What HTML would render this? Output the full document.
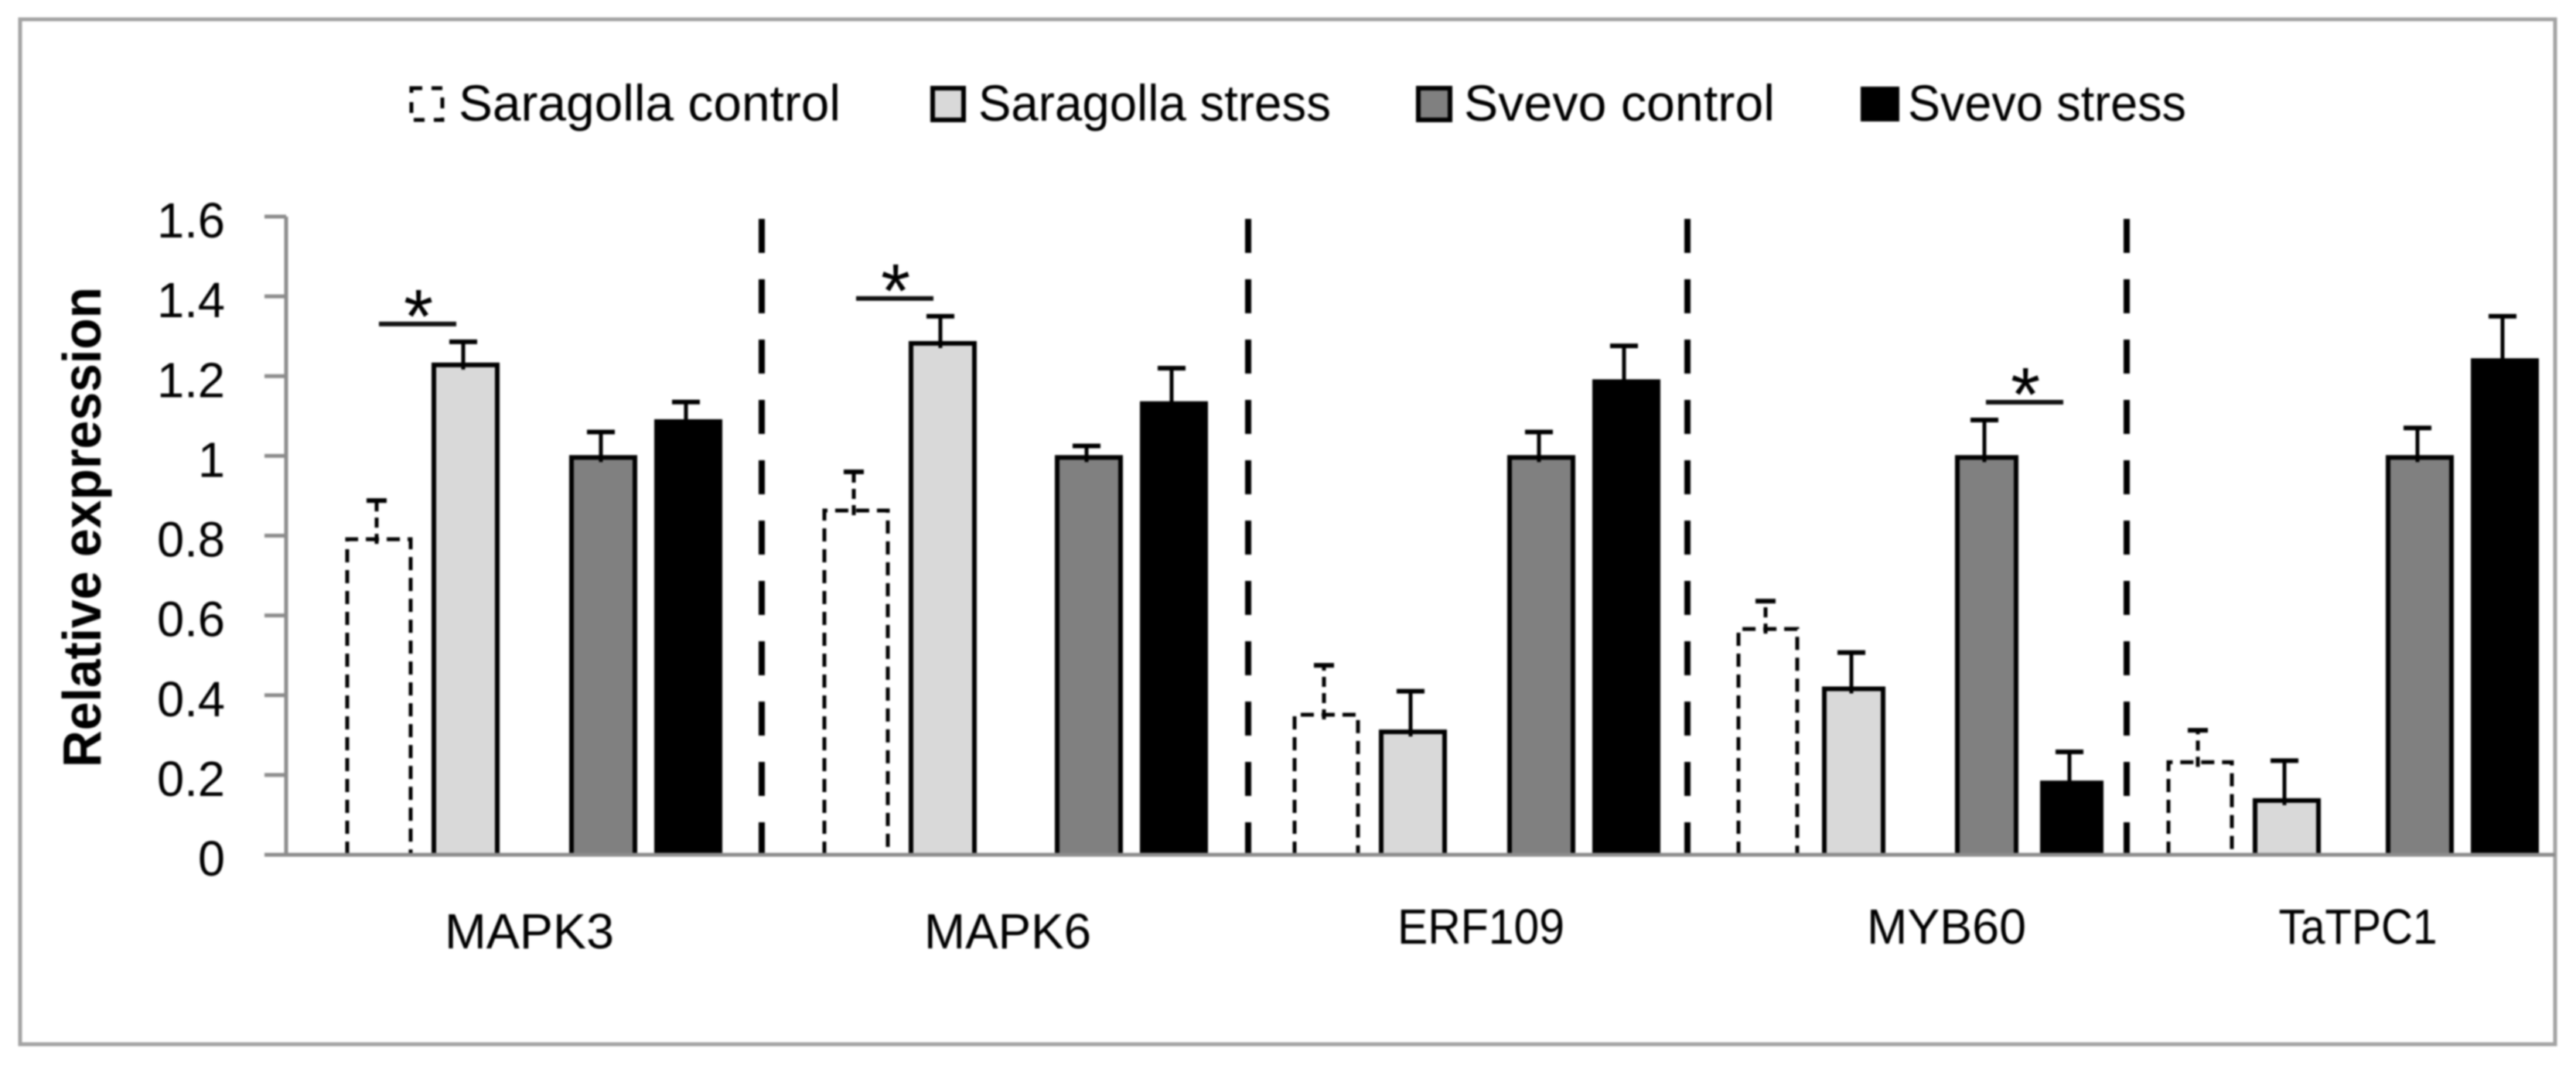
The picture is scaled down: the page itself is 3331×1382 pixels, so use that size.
<!DOCTYPE html>
<html lang="en">
<head>
<meta charset="utf-8">
<title>Relative expression chart</title>
<style>
html,body{margin:0;padding:0;background:#fff;width:3331px;height:1382px;overflow:hidden}
svg{display:block;filter:blur(1px)}
text{font-family:"Liberation Sans",sans-serif;fill:#000}
</style>
</head>
<body>
<svg id="chart" xmlns="http://www.w3.org/2000/svg" width="3331" height="1382" viewBox="0 0 3331 1382">
  <rect x="26" y="25" width="3278" height="1325" fill="#fff" stroke="#a3a3a3" stroke-width="5"/>

  <g>
    <g>
      <rect x="532" y="114" width="40" height="41" fill="#fff" stroke="#000" stroke-width="5" stroke-dasharray="14 12"/>
      <text x="593" y="156" font-size="66" textLength="494" lengthAdjust="spacingAndGlyphs">Saragolla control</text>
    </g>
    <g>
      <rect x="1206" y="114" width="40" height="41" fill="#d9d9d9" stroke="#000" stroke-width="6"/>
      <text x="1265" y="156" font-size="66" textLength="456" lengthAdjust="spacingAndGlyphs">Saragolla stress</text>
    </g>
    <g>
      <rect x="1834" y="114" width="41" height="41" fill="#808080" stroke="#000" stroke-width="6"/>
      <text x="1893" y="156" font-size="66" textLength="402" lengthAdjust="spacingAndGlyphs">Svevo control</text>
    </g>
    <g>
      <rect x="2406" y="112" width="50" height="45" fill="#000"/>
      <text x="2467" y="156" font-size="66" textLength="360" lengthAdjust="spacingAndGlyphs">Svevo stress</text>
    </g>
  </g>

  <text transform="translate(130,992) rotate(-90)" font-size="70" font-weight="bold" textLength="621" lengthAdjust="spacingAndGlyphs">Relative expression</text>

  <g id="dividers"></g>
  <g id="bars"></g>
  <g id="errors"></g>
  <g id="significance"></g>
  <g id="y-axis"></g>
  <g id="x-axis"></g>
</svg>

<script>
const categories = ['MAPK3', 'MAPK6', 'ERF109', 'MYB60', 'TaTPC1'];
const seriesNames = ['saragolla-control', 'saragolla-stress', 'svevo-control', 'svevo-stress'];
const saragollaControl = [0.795, 0.867, 0.355, 0.57, 0.236];
const saragollaStress = [1.232, 1.286, 0.312, 0.42, 0.14];
const svevoControl = [1.0, 1.0, 1.0, 1.0, 1.0];
const svevoStress = [1.09, 1.135, 1.19, 0.184, 1.243];
const saragollaControlError = [0.093, 0.093, 0.12, 0.066, 0.076];
const saragollaStressError = [0.054, 0.064, 0.098, 0.087, 0.096];
const svevoControlError = [0.06, 0.025, 0.06, 0.09, 0.07];
const svevoStressError = [0.045, 0.085, 0.086, 0.074, 0.107];
const yTickValues = [0, 0.2, 0.4, 0.6, 0.8, 1, 1.2, 1.4, 1.6];
const yTickLabels = ['0', '0.2', '0.4', '0.6', '0.8', '1', '1.2', '1.4', '1.6'];
const significantGenes = ['MAPK3', 'MAPK6', 'MYB60'];
const significantSeries = [0, 0, 2];

const seriesValues = [saragollaControl, saragollaStress, svevoControl, svevoStress];
const seriesErrors = [saragollaControlError, saragollaStressError, svevoControlError, svevoStressError];
const SVG_NS = 'http://www.w3.org/2000/svg';

/* Y axis: value to pixel */
function yScale(v) {
  const baseY = 1105, topY = 280, maxV = 1.6;
  return baseY - (v / maxV) * (baseY - topY);
}

/* X axis: each gene is a separately pasted panel with its own layout */
function panelLeft(g) { return [448, 1065, 1673, 2247, 2803][g]; }
function panelBarWidth(g) { return [84, 84, 84, 78, 84][g]; }
function panelSvevoOffset(g) { return [290, 301, 278, 283, 284][g]; }
function panelLabelCenter(g) { return [684.5, 1303, 1915, 2517, 3049][g]; }
function panelLabelWidth(g) { return [219, 216, 216, 206, 205][g]; }
function panelLabelBaseline(g) { return [1226, 1226, 1220, 1220, 1220][g]; }
function xScale(g, s) {
  const offsets = [0, panelBarWidth(g) === 84 ? 112 : 111, panelSvevoOffset(g), panelSvevoOffset(g) + 110];
  return panelLeft(g) + offsets[s];
}
function dividerX(i) { return [985, 1614, 2182, 2750][i]; }

function make(tag, attrs, parent) {
  const el = document.createElementNS(SVG_NS, tag);
  Object.keys(attrs).forEach(function (k) { el.setAttribute(k, attrs[k]); });
  parent.appendChild(el);
  return el;
}

const fills = ['#ffffff', '#d9d9d9', '#808080', '#000000'];
const barsGroup = document.getElementById('bars');
const errorsGroup = document.getElementById('errors');
const sigGroup = document.getElementById('significance');
const yGroup = document.getElementById('y-axis');
const xGroup = document.getElementById('x-axis');
const dividerGroup = document.getElementById('dividers');

for (let i = 0; i < categories.length - 1; i++) {
  const x = dividerX(i);
  const line = make('line', { x1: x, x2: x, y1: 283, y2: 1105, stroke: '#000', 'stroke-width': 8, 'stroke-dasharray': '44 34' }, dividerGroup);
  
  
}

categories.forEach(function (gene, g) {
  seriesValues.forEach(function (values, s) {
    const w = panelBarWidth(g);
    const left = xScale(g, s);
    const top = yScale(values[g]);
    const dashed = s === 0;
    const bar = make('path', {
      d: 'M' + (left + 1) + ' ' + yScale(0) + 'V' + (top + 2) + 'H' + (left + w - 1) + 'V' + yScale(0),
      fill: fills[s],
      stroke: '#000',
      'stroke-width': dashed ? 5 : 6,
      'stroke-dasharray': dashed ? '17 10' : 'none'
    }, barsGroup);
    
    

    const cx = left + w / 2 - 3;
    const errTop = yScale(values[g] + seriesErrors[s][g]);
    const stem = make('line', {
      x1: cx, x2: cx, y1: top + 8, y2: errTop,
      stroke: '#000', 'stroke-width': 5,
      'stroke-dasharray': dashed ? '13 8' : 'none'
    }, errorsGroup);
    
    

    const halfCap = dashed ? 13 : 18;
    const cap = make('line', {
      x1: cx - halfCap, x2: cx + halfCap, y1: errTop, y2: errTop,
      stroke: '#000', 'stroke-width': 6
    }, errorsGroup);
    
    
  });

  const label = make('text', {
    x: panelLabelCenter(g), y: panelLabelBaseline(g), 'text-anchor': 'middle', 'font-size': 64,
    textLength: panelLabelWidth(g), lengthAdjust: 'spacingAndGlyphs'
  }, xGroup);
  label.textContent = gene;
  
  
});

significantGenes.forEach(function (gene, i) {
  const g = categories.indexOf(gene);
  const s = significantSeries[i];
  const hiTop = Math.min(
    yScale(seriesValues[s][g] + seriesErrors[s][g]),
    yScale(seriesValues[s + 1][g] + seriesErrors[s + 1][g])
  );
  const w = panelBarWidth(g);
  const cx = (xScale(g, s) + w + xScale(g, s + 1)) / 2 - 6;
  const y = hiTop - 23;
  const bracket = make('line', { x1: cx - 50, x2: cx + 50, y1: y, y2: y, stroke: '#111', 'stroke-width': 6 }, sigGroup);
  
  
  const star = make('text', { x: cx - 3, y: y + 24, 'text-anchor': 'middle', 'font-size': 98, 'font-style': 'italic' }, sigGroup);
  star.textContent = '*';
  
  
});

const yLine = make('line', { x1: 370, x2: 370, y1: yScale(1.6), y2: yScale(0), stroke: '#8c8c8c', 'stroke-width': 5 }, yGroup);



yTickValues.forEach(function (v, i) {
  const y = yScale(v);
  const tick = make('line', { x1: 342, x2: 370, y1: y, y2: y, stroke: '#8c8c8c', 'stroke-width': 5 }, yGroup);
  
  
  const label = make('text', { x: 291, y: y + 27, 'text-anchor': 'end', 'font-size': 64, textLength: yTickLabels[i].length === 1 ? 35 : 88, lengthAdjust: 'spacingAndGlyphs' }, yGroup);
  label.textContent = yTickLabels[i];
  
  
});

const xLine = make('line', { x1: 342, x2: 3304, y1: yScale(0), y2: yScale(0), stroke: '#8c8c8c', 'stroke-width': 5 }, xGroup);


</script>
</body>
</html>
